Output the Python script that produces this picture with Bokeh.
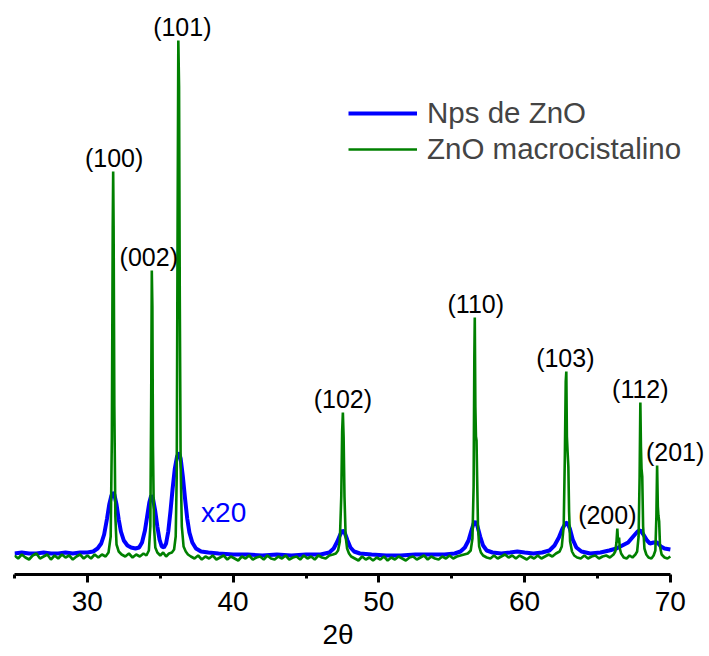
from bokeh.plotting import figure
from bokeh.models import (Range1d, FixedTicker, Legend, LegendItem, Label, LabelSet,
                          ColumnDataSource, Title)
from bokeh.embed import file_html
from bokeh.resources import INLINE
from bokeh.core.properties import value

# ---- data (intensity in arbitrary units) ----
green_x = [25.0, 25.25, 25.5, 25.75, 26.0, 26.25, 26.5, 26.75, 27.0, 27.25, 27.5, 27.75, 28.0, 28.25,
           28.5, 28.75, 29.0, 29.25, 29.5, 29.75, 30.0, 30.25, 30.5, 30.75, 31.0, 31.25, 31.45,
           31.6, 31.68, 31.74, 31.77, 31.8, 31.85, 31.92, 32.0, 32.15, 32.35, 32.6, 32.85, 33.1,
           33.35, 33.6, 33.85, 34.05, 34.22, 34.32, 34.38, 34.42, 34.46, 34.5, 34.57, 34.66, 34.8,
           35.0, 35.2, 35.4, 35.6, 35.8, 35.95, 36.06, 36.13, 36.19, 36.24, 36.29, 36.34, 36.4,
           36.48, 36.6, 36.75, 36.9, 37.1,
           37.35, 37.6, 37.85, 38.1, 38.35, 38.6, 38.85, 39.1, 39.35, 39.6, 39.85, 40.1, 40.35,
           40.6, 40.85, 41.1, 41.35, 41.6, 41.85, 42.1, 42.35, 42.6, 42.85, 43.1, 43.35, 43.6,
           43.85, 44.1, 44.35, 44.6, 44.85, 45.1, 45.35, 45.6, 45.85, 46.1, 46.35, 46.6, 46.85,
           47.05, 47.2, 47.32, 47.42, 47.48, 47.53, 47.58, 47.64, 47.72, 47.82, 47.95, 48.1,
           48.35, 48.6, 48.85, 49.1, 49.35, 49.6, 49.85, 50.1, 50.35, 50.6, 50.85, 51.1, 51.35,
           51.6, 51.85, 52.1, 52.35, 52.6, 52.85, 53.1, 53.35, 53.6, 53.85, 54.1, 54.35, 54.6,
           54.85, 55.1, 55.35, 55.6, 55.85, 56.1, 56.3,
           56.42, 56.5, 56.55, 56.58, 56.62, 56.66, 56.7, 56.74, 56.8, 56.88, 57.0, 57.15,
           57.4, 57.65, 57.9, 58.15, 58.4, 58.65, 58.9, 59.15, 59.4, 59.65, 59.9, 60.15, 60.4,
           60.65, 60.9, 61.15, 61.4, 61.65, 61.9, 62.15, 62.4,
           62.55, 62.68, 62.76, 62.82, 62.86, 62.9, 62.95, 63.0, 63.05, 63.12, 63.25, 63.4,
           63.6, 63.85, 64.1, 64.35, 64.6, 64.85, 65.1, 65.35, 65.6, 65.85, 66.1,
           66.22, 66.3, 66.36, 66.4, 66.44, 66.48, 66.53, 66.62,
           66.8, 67.0, 67.2, 67.4, 67.6,
           67.72, 67.82, 67.89, 67.94, 67.98, 68.02, 68.07, 68.13, 68.22, 68.35,
           68.5, 68.7, 68.85,
           68.97, 69.04, 69.09, 69.14, 69.18, 69.23, 69.29, 69.4,
           69.6, 69.8, 70.0]
green_y = [1, -2, 2, -1, -3, 1, 3, -2, 0, 2, -3, 1, -2, 2,
           -1, 1, -3, 0, 2, -2, 1, -2, 2, -1, 2, 0, 4,
           20, 120, 330, 385, 330, 150, 40, 12, 5, 2, 0, 3, -1,
           2, 0, 3, 1, 6, 30, 160, 286, 250, 110, 30, 9, 4,
           1, 4, 0, 3, 4, 7, 20, 80, 330, 516, 470, 260, 90,
           30, 10, 5, 2, 0,
           -2, 1, -3, 0, -2, 1, -3, -1, 1, -3, 0, -2, -4,
           0, -2, 1, -3, -1, 0, -3, 1, -2, -3, 0, -2, 1,
           -3, -1, 0, -3, 1, -2, 0, -3, 1, -1, -2, 1, 2,
           3, 6, 15, 60, 125, 144, 120, 60, 20, 8, 3, 0,
           -2, -4, 0, -3, -1, -4, -1, -3, 0, -4, -1, -3, 0,
           -2, -4, -1, 0, -3, -1, 1, -3, 0, -2, -3, 0, -2,
           1, -2, 0, 1, 2, 3, 6,
           18, 70, 200, 239, 150, 120, 116, 80, 30, 10, 4, 1,
           -1, -2, 1, -2, 0, 2, -1, 1, -2, 1, -1, -3, 0,
           -2, 1, -2, 0, 2, 0, 3, 5,
           10, 30, 100, 175, 185, 120, 104, 90, 45, 15, 5, 1,
           -1, -2, 1, -2, 0, 1, -2, 0, 1, -1, 2,
           5, 14, 28, 18, 14, 19, 8, 3,
           -1, -2, 1, -1, 2,
           5, 20, 80, 154, 110, 88, 80, 30, 8, 2,
           -1, -2, 1,
           6, 40, 91, 50, 41, 35, 10, 2,
           -1, -2, 0]

blue_x = [25.0, 25.5, 26.0, 26.5, 27.0, 27.5, 28.0, 28.5, 29.0, 29.5, 30.0, 30.4, 30.7, 30.95,
          31.15, 31.35, 31.5, 31.65, 31.75, 31.85, 32.0, 32.15, 32.3, 32.5, 32.75, 33.0, 33.3,
          33.55, 33.75, 33.95, 34.1, 34.25, 34.38, 34.5, 34.65, 34.8, 34.95, 35.1, 35.25, 35.4,
          35.55, 35.7, 35.85, 36.0, 36.15, 36.28, 36.4, 36.55, 36.7, 36.85, 37.0, 37.2, 37.45,
          37.8, 38.3, 39.0, 40.0, 41.0, 42.0, 43.0, 44.0, 45.0, 46.0, 46.6, 46.9, 47.15, 47.35,
          47.5, 47.65, 47.85, 48.05, 48.3, 48.7, 49.5, 50.5, 51.5, 52.5, 53.5, 54.5, 55.2, 55.6,
          55.9, 56.15, 56.35, 56.5, 56.6, 56.75, 56.95, 57.15, 57.4, 57.8, 58.4, 59.0, 59.5, 60.0,
          60.6, 61.2, 61.7, 62.05, 62.35, 62.6, 62.8, 62.92, 63.1, 63.3, 63.55, 63.9, 64.5, 65.2,
          65.8, 66.3, 66.7, 67.1, 67.45, 67.75, 67.95, 68.15, 68.4, 68.6, 68.85, 69.1, 69.35,
          69.6, 70.0]
blue_y = [3, 4, 3, 3, 4, 3, 3, 4, 3, 4, 4, 5, 8, 13,
          22, 38, 52, 61, 64, 62, 52, 37, 25, 16, 11, 9, 8,
          9, 14, 26, 40, 54, 61, 58, 46, 30, 17, 10, 9, 13,
          25, 45, 68, 88, 100, 104, 98, 80, 58, 38, 24, 14, 8,
          5, 4, 3, 2, 2, 1, 2, 1, 2, 2, 4, 8, 15, 22,
          26, 24, 16, 9, 5, 3, 2, 1, 1, 2, 2, 2, 3, 5,
          9, 16, 26, 33, 35, 31, 20, 11, 6, 4, 3, 4, 5, 4,
          3, 4, 6, 11, 19, 28, 33, 34, 28, 17, 9, 5, 3, 4,
          6, 8, 11, 14, 20, 25, 26, 22, 16, 13, 14, 14, 10,
          8, 7]

hkl = ["(100)", "(002)", "(101)", "(102)", "(110)", "(103)", "(200)", "(112)", "(201)"]
peak_pos = [31.77, 34.42, 36.24, 47.53, 56.58, 62.86, 66.36, 67.94, 69.09]
peak_height = [385, 286, 516, 144, 239, 185, 28, 154, 91]
label_dx = [1, -3, 4, 0, 1, -1, -10, 0, 18]

series_names = ["Nps de ZnO", "ZnO macrocistalino"]
x_title = "2θ"
x_start, x_end = 25, 70
major_ticks = [30, 40, 50, 60, 70]
minor_ticks = [25, 35, 45, 55, 65]

FONT = "Liberation Sans"

# frame spans the full width on the right so that texts past 2θ = 70 are not cut;
# the axis itself is bounded to 25–70
px_per_unit = 14.575
frame_left = 14
x_range_end = x_start + (709 - frame_left) / px_per_unit

p = figure(width=709, height=656, output_backend="svg", toolbar_location=None,
           x_range=Range1d(x_start, x_range_end), y_range=Range1d(-18, 556),
           y_axis_location=None,
           min_border_left=frame_left, min_border_right=0, min_border_top=0, min_border_bottom=82)
p.outline_line_color = None
p.grid.visible = False
p.background_fill_color = "white"
p.border_fill_color = "white"

rb = p.line(blue_x, blue_y, line_color="#0000FF", line_width=4)
rg = p.line(green_x, green_y, line_color="#008000", line_width=2.6)

ax = p.xaxis[0]
ax.bounds = (x_start, x_end)
ax.ticker = FixedTicker(ticks=major_ticks, minor_ticks=minor_ticks)
ax.axis_line_width = 3
ax.major_tick_line_width = 3
ax.minor_tick_line_width = 3
ax.major_tick_in = 0
ax.major_tick_out = 8
ax.minor_tick_in = 0
ax.minor_tick_out = 4
ax.major_label_text_font = FONT
ax.major_label_text_font_size = "28px"
ax.major_label_text_color = "black"
ax.major_label_standoff = 9

# axis title centred under the 25–70 axis (not under the wider frame)
p.add_layout(Title(text=x_title, align="left", offset=308, text_font=FONT,
                   text_font_size="28px", text_font_style="normal", text_color="black",
                   standoff=7), "below")

src = ColumnDataSource(dict(x=peak_pos, y=peak_height, t=hkl, dx=label_dx))
p.add_layout(LabelSet(x="x", y="y", text="t", x_offset="dx", y_offset=0, source=src,
                      text_align="center", text_baseline="bottom",
                      text_font=value(FONT), text_font_size=value("25px"),
                      text_color=value("black")))

p.add_layout(Label(x=37.8, y=44, text="x20", text_color="#0000FF",
                   text_font=FONT, text_font_size="28px", text_baseline="middle",
                   text_align="left"))

legend = Legend(items=[LegendItem(label=series_names[0], renderers=[rb]),
                       LegendItem(label=series_names[1], renderers=[rg])],
                location=(334, 407), border_line_color=None, background_fill_alpha=0,
                padding=0, margin=0, spacing=0, glyph_width=69, glyph_height=36,
                label_height=36, label_standoff=10,
                label_text_font=FONT, label_text_font_size="29.5px")
p.add_layout(legend)

open("out.html", "w").write(file_html(p, INLINE))
